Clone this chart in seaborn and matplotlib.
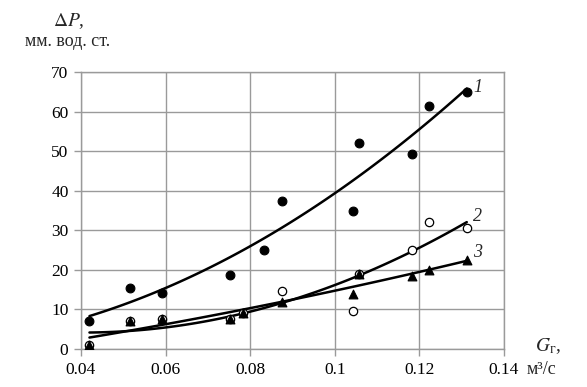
import numpy as np
import pandas as pd
import matplotlib
matplotlib.use("Agg")
import matplotlib.pyplot as plt
import seaborn as sns

# data
x1 = [0.042, 0.0516, 0.0591, 0.0752, 0.0833, 0.0876, 0.1043, 0.1057, 0.1182, 0.1222, 0.1312]
y1 = [7.0, 15.5, 14.2, 18.7, 25.0, 37.5, 35.0, 52.0, 49.2, 61.5, 65.0]
x2 = [0.042, 0.0516, 0.0591, 0.0752, 0.0783, 0.0876, 0.1043, 0.1057, 0.1182, 0.1222, 0.1312]
y2 = [1.0, 7.0, 7.5, 7.7, 9.0, 14.6, 9.5, 19.0, 25.0, 32.0, 30.7]
x3 = [0.042, 0.0516, 0.0591, 0.0752, 0.0783, 0.0876, 0.1043, 0.1057, 0.1182, 0.1222, 0.1312]
y3 = [1.0, 7.0, 7.5, 7.7, 9.0, 12.0, 14.0, 19.0, 18.4, 20.0, 22.4]
xticks = [0.04, 0.06, 0.08, 0.1, 0.12, 0.14]
xtick_labels = ["0.04", "0.06", "0.08", "0.1", "0.12", "0.14"]
yticks = [0, 10, 20, 30, 40, 50, 60, 70]
curve_labels = ["1", "2", "3"]

sns.set_theme(style="white")
plt.rcParams['font.family'] = ['Liberation Serif', 'DejaVu Serif']
plt.rcParams['mathtext.fontset'] = 'stix'

fig = plt.figure(figsize=(5.87, 3.87), dpi=100)
ax = fig.add_axes([81/587, 1-349/387, (504-81)/587, (349-72)/387])

df1 = pd.DataFrame({"x": x1, "y": y1})
df2 = pd.DataFrame({"x": x2, "y": y2})
df3 = pd.DataFrame({"x": x3, "y": y3})

line_kw = dict(color="black", lw=1.8)
for df in (df1, df2, df3):
    sns.regplot(data=df, x="x", y="y", order=2, ci=None, scatter=False,
                truncate=True, line_kws=line_kw, ax=ax)

sns.scatterplot(data=df1, x="x", y="y", marker="o", s=40, color="black",
                edgecolor="black", linewidth=0.8, ax=ax, zorder=5)
sns.scatterplot(data=df2, x="x", y="y", marker="o", s=36, color="white",
                edgecolor="black", linewidth=0.9, ax=ax, zorder=5)
sns.scatterplot(data=df3, x="x", y="y", marker="^", s=40, color="black",
                edgecolor="black", linewidth=0.8, ax=ax, zorder=6)

ax.set_xlim(0.04, 0.14)
ax.set_ylim(0, 70)
ax.set_xticks(xticks)
ax.set_xticklabels(xtick_labels)
ax.set_yticks(yticks)
ax.set_xlabel("")
ax.set_ylabel("")
ax.grid(True, color="#9a9a9a", lw=1.0)
for s in ax.spines.values():
    s.set_color("#9a9a9a")
    s.set_linewidth(1.0)
ax.tick_params(axis="both", which="both", direction="out", length=5, width=1.0,
               color="#9a9a9a", labelsize=12.5, pad=4, labelcolor="black",
               bottom=True, left=True)

# curve labels
ax.text(x1[-1] + 0.0015, y1[-1] + 1, curve_labels[0], style="italic", fontsize=13, ha="left", va="center")
ax.text(x2[-1] + 0.0015, 33.5, curve_labels[1], style="italic", fontsize=13, ha="left", va="center")
ax.text(x3[-1] + 0.0015, 24.5, curve_labels[2], style="italic", fontsize=13, ha="left", va="center")

fig.text(69/587, 1-21/387, r"$\Delta P$,", fontsize=14, ha="center", va="center")
fig.text(68/587, 1-42/387, "мм. вод. ст.", fontsize=13, ha="center", va="center")
fig.text(548/587, 1-346/387, r"$G_{\mathrm{г}}$,", fontsize=14, ha="center", va="center")
fig.text(542/587, 1-370/387, "м³/с", fontsize=13, ha="center", va="center")

fig.savefig("out.png", dpi=100)
